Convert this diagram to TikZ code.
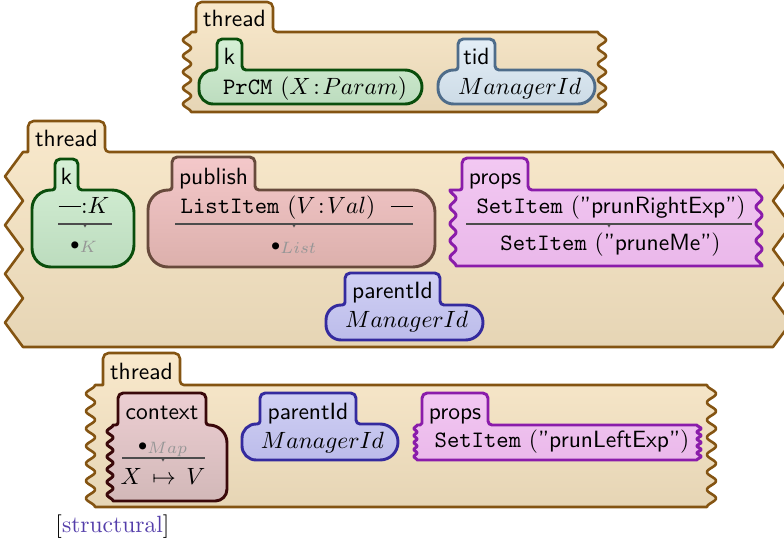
\documentclass[tikz,border=0pt]{standalone}
\usetikzlibrary{calc}

% cell colours: frame, top of fill, bottom of fill
\definecolor{thrLine}{RGB}{132,84,18}
\definecolor{thrTop}{RGB}{249,233,204}
\definecolor{thrBot}{RGB}{230,213,181}
\definecolor{kLine}{RGB}{10,78,12}
\definecolor{kTop}{RGB}{214,240,214}
\definecolor{kBot}{RGB}{188,220,190}
\definecolor{tidLine}{RGB}{78,108,138}
\definecolor{tidTop}{RGB}{228,238,247}
\definecolor{tidBot}{RGB}{204,219,230}
\definecolor{pubLine}{RGB}{104,74,60}
\definecolor{pubTop}{RGB}{244,200,202}
\definecolor{pubBot}{RGB}{220,176,172}
\definecolor{propLine}{RGB}{138,28,170}
\definecolor{propTop}{RGB}{242,200,242}
\definecolor{propBot}{RGB}{234,184,234}
\definecolor{parLine}{RGB}{52,42,158}
\definecolor{parTop}{RGB}{208,208,244}
\definecolor{parBot}{RGB}{188,188,234}
\definecolor{ctxLine}{RGB}{58,8,10}
\definecolor{ctxTop}{RGB}{236,206,210}
\definecolor{ctxBot}{RGB}{210,184,184}
\definecolor{subGray}{RGB}{150,150,150}
\definecolor{attrBlue}{RGB}{84,62,170}

% anonymous variable, printed as a bar
\newcommand{\anyvar}{\rule[2.5pt]{9.5pt}{0.5pt}}
% empty-structure dot with a grey sort subscript
\newcommand{\unitdot}[1]{{\scriptstyle\bullet}_{\textcolor{subGray}{#1}}}
% typed variable
\newcommand{\tvar}[2]{#1\mkern2mu{:}\mkern2mu#2}
% vertical wavy side: inner x, start y, end y, signed amplitude, number of periods
\newcommand{\wavyside}[5]{%
  -- plot[variable=\t, domain=#2:#3, samples=120]
     ({#1+(#4)*(1-cos(360*(#5)*((\t-(#2))/((#3)-(#2)))))/2}, {\t})}

\tikzset{
  rc/.style={rounded corners=#1},
  cellbase/.style={line width=1.25pt, line join=round},
  threadcell/.style={cellbase, line width=1.1pt, draw=thrLine, top color=thrTop, bottom color=thrBot},
  kcell/.style={cellbase, draw=kLine, top color=kTop, bottom color=kBot},
  tidcell/.style={cellbase, draw=tidLine, top color=tidTop, bottom color=tidBot},
  pubcell/.style={cellbase, draw=pubLine, top color=pubTop, bottom color=pubBot},
  propcell/.style={cellbase, draw=propLine, top color=propTop, bottom color=propBot},
  parcell/.style={cellbase, draw=parLine, top color=parTop, bottom color=parBot},
  ctxcell/.style={cellbase, draw=ctxLine, top color=ctxTop, bottom color=ctxBot},
  tag/.style={font=\sffamily, inner sep=0pt, anchor=base},
  term/.style={inner sep=0pt, anchor=base},
  rwline/.style={draw=black!70, line width=0.55pt},
  rwtick/.style={fill=black!70},
}

\begin{document}
\begin{tikzpicture}[x=0.425pt, y=-0.425pt]
\useasboundingbox (0,0) rectangle (784,541);

% ---------- thread 1 ----------
\draw[threadcell] (400,112) -- (191,112) [sharp corners] \wavyside{191}{112}{32}{-8}{5}
  -- (196,32) [rc=2.4pt] -- (196,2) -- (273,2) [rc=1.7pt] -- (273,32)
  [sharp corners] -- (598,32) \wavyside{598}{32}{112}{8}{5} -- cycle;
\draw[kcell] (300,104) [rc=6pt] -- (199,104) -- (199,70) [rc=1.2pt] -- (217,70)
  [rc=2.2pt] -- (217,39) -- (242,39) [rc=1.7pt] -- (242,70)
  [rc=7.2pt] -- (422,70) -- (422,104) -- cycle;
\draw[tidcell] (520,104) [rc=6.6pt] -- (438,104) -- (438,70) [rc=1.2pt] -- (458,70)
  [rc=2.2pt] -- (458,39) -- (495,39) [rc=1.7pt] -- (495,70)
  [rc=7.2pt] -- (595,70) -- (595,104) -- cycle;

\node[tag] (t1tag) at (234.5,26) {thread};
\node[tag] (k1tag) at (229.5,64) {k};
\node[tag] (tidtag) at (476.5,64) {tid};
\node[term] (k1term) at (315,94) {$\mathtt{PrCM}\ (\tvar{X}{Param})$};
\node[term] (tidterm) at (519.7,94) {$ManagerId$};

% ---------- thread 2 ----------
\draw[threadcell] (400,347) -- (23,347) -- (5,322.625) -- (23,298.25) -- (5,273.875)
  -- (23,249.5) -- (5,225.125) -- (23,200.75) -- (5,176.375) -- (23,152) -- (28,152)
  [rc=2.4pt] -- (28,121) -- (105,121) [rc=1.7pt] -- (105,152)
  [sharp corners] -- (773,152) -- (791,176.375) -- (773,200.75) -- (791,225.125)
  -- (773,249.5) -- (791,273.875) -- (773,298.25) -- (791,322.625) -- (773,347) -- cycle;
\draw[kcell] (83,267) [rc=8pt] -- (32,267) -- (32,190) [rc=1.2pt] -- (55,190)
  [rc=2.2pt] -- (55,159) -- (78,159) [rc=1.7pt] -- (78,190)
  [rc=9.4pt] -- (134,190) -- (134,267) -- cycle;
\draw[pubcell] (290,267) [rc=8.5pt] -- (148,267) -- (148,190) [rc=1.2pt] -- (172,190)
  [rc=2.2pt] -- (172,157) -- (255,157) [rc=1.7pt] -- (255,190)
  [rc=9.4pt] -- (435,190) -- (435,267) -- cycle;
\draw[propcell] (600,266) -- (456,266) [sharp corners] \wavyside{456}{266}{190}{-6}{4.5}
  [rc=1pt] -- (462,190) [rc=2.2pt] -- (462,158) -- (528,158) [rc=1.7pt] -- (528,190)
  [sharp corners] -- (756,190) \wavyside{756}{190}{266}{6}{4.5} -- cycle;
\draw[parcell] (400,340) [rc=6.4pt] -- (326,340) -- (326,305) [rc=1.2pt] -- (345,305)
  [rc=2.2pt] -- (345,273) -- (440,273) [rc=1.7pt] -- (440,305)
  [rc=7.4pt] -- (483,305) -- (483,340) -- cycle;

\node[tag] (t2tag) at (66.5,146) {thread};
\node[tag] (k2tag) at (66.5,184) {k};
\node[tag] (pubtag) at (213.5,184) {publish};
\node[tag] (pr2tag) at (495,184) {props};
\node[tag] (par2tag) at (392.5,298) {parentId};

\node[term] (k2top) at (84,213) {$\anyvar{:}K$};
\draw[rwline] (58,224) -- (112,224);
\fill[rwtick] (83,224) -- (87,224) -- (85,227.5) -- cycle;
\node[term] (k2bot) at (84,249) {$\unitdot{K}$};

\node[term] (pubtop) at (297,213) {$\mathtt{ListItem}\ (\tvar{V}{Val})\ \ \anyvar$};
\draw[rwline] (175,224) -- (413,224);
\fill[rwtick] (292,224) -- (296,224) -- (294,227.5) -- cycle;
\node[term] (pubbot) at (294,250) {$\unitdot{List}$};

\node[term] (pr2top) at (611,213) {$\mathtt{SetItem}\ (\textsf{"prunRightExp"})$};
\draw[rwline] (466,224) -- (752,224);
\fill[rwtick] (607,224) -- (611,224) -- (609,227.5) -- cycle;
\node[term] (pr2bot) at (610.5,250) {$\mathtt{SetItem}\ (\textsf{"pruneMe"})$};

\node[term] (par2term) at (406.7,327) {$ManagerId$};

% ---------- thread 3 ----------
\draw[threadcell] (400,507) -- (95,507) [sharp corners] \wavyside{95}{507}{385}{-9}{7}
  -- (103,385) [rc=2.4pt] -- (103,353) -- (180,353) [rc=1.7pt] -- (180,385)
  [sharp corners] -- (707,385) \wavyside{707}{385}{507}{9}{7} -- cycle;
\draw[ctxcell] (170,501) -- (113,501) [sharp corners] \wavyside{113}{501}{425}{-6}{6}
  [rc=1pt] -- (118,425) [rc=2.2pt] -- (118,393) -- (206,393) [rc=1.2pt] -- (206,425)
  [rc=7.6pt] -- (227,425) [rc=5pt] -- (227,501) -- cycle;
\draw[parcell] (320,460) [rc=6pt] -- (242,460) -- (242,424) [rc=1.2pt] -- (260,424)
  [rc=2.2pt] -- (260,393) -- (356,393) [rc=1.7pt] -- (356,424)
  [rc=7.6pt] -- (398,424) -- (398,460) -- cycle;
\draw[propcell] (550,460) -- (417,460) [sharp corners] \wavyside{417}{460}{425}{-3}{5}
  [rc=0.8pt] -- (422,425) [rc=2.2pt] -- (422,393) -- (488,393) [rc=1.7pt] -- (488,425)
  [sharp corners] -- (697,425) \wavyside{697}{425}{460}{4}{5} -- cycle;

\node[tag] (t3tag) at (141.5,379) {thread};
\node[tag] (ctxtag) at (162,419) {context};
\node[tag] (par3tag) at (308,419) {parentId};
\node[tag] (pr3tag) at (455,419) {props};

\node[term] (ctxtop) at (163,450) {$\unitdot{Map}$};
\draw[rwline] (122,458) -- (205,458);
\fill[rwtick] (161,458) -- (165,458) -- (163,461.5) -- cycle;
\node[term] (ctxbot) at (163,484) {$X\,\mapsto\,V$};

\node[term] (par3term) at (322.5,448) {$ManagerId$};
\node[term] (pr3term) at (562,447) {$\mathtt{SetItem}\ (\textsf{"prunLeftExp"})$};

% rule attribute
\node[term, anchor=base west] (attr) at (55,532) {[\textcolor{attrBlue}{structural}]};
\end{tikzpicture}
\end{document}
